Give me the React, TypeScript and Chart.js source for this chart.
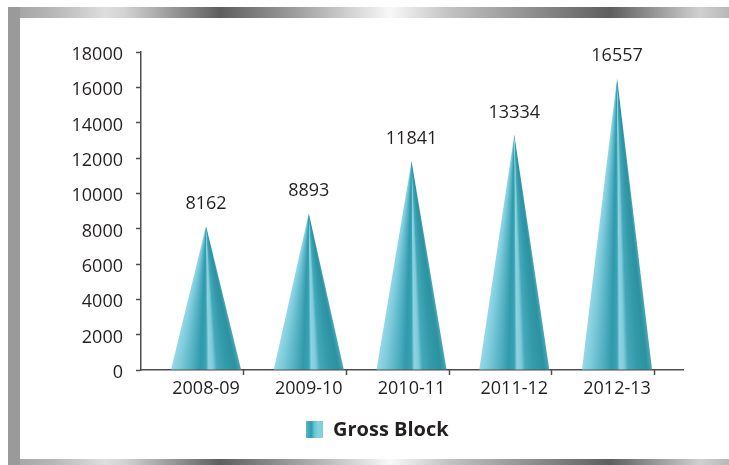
import React, { useEffect, useRef } from "react";
import { Chart, registerables } from "chart.js";

Chart.register(...registerables);

// ---- data ----
const categories = ["2008-09", "2009-10", "2010-11", "2011-12", "2012-13"];
const grossBlock = [8162, 8893, 11841, 13334, 16557];
const seriesLabel = "Gross Block";
const yMin = 0;
const yMax = 18000;
const yStep = 2000;

// ---- style ----
const FONT = "'Open Sans', 'Liberation Sans', sans-serif";
const TEXT = "#231f20";
const AXIS = "#4d4d4d";
const coneStops: [number, string][] = [
  [0.0, "#95d8e8"],
  [0.12, "#7ccbdb"],
  [0.3, "#4fafc0"],
  [0.42, "#3099aa"],
  [0.5, "#3aa3b3"],
  [0.54, "#8fd4e2"],
  [0.6, "#7fcbdb"],
  [0.66, "#44a8b8"],
  [0.8, "#3299a9"],
  [0.93, "#2c92a2"],
  [1.0, "#4aa9b7"],
];

function drawCone(ctx: CanvasRenderingContext2D, x: number, apexY: number, baseY: number, w: number) {
  const xl = x - w / 2;
  const xr = x + w / 2;
  const h = baseY - apexY;
  ctx.save();
  ctx.beginPath();
  ctx.moveTo(x, apexY);
  ctx.lineTo(xr, baseY);
  ctx.lineTo(xl, baseY);
  ctx.closePath();
  let fill: any;
  const anyCtx = ctx as any;
  if (h > 2 && typeof anyCtx.createConicGradient === "function") {
    const shift = 0.05;
    const aR = Math.atan2(h, xr - x) - shift;
    const g = anyCtx.createConicGradient(aR, x, apexY);
    for (const [f, c] of coneStops) {
      const a = Math.atan2(h, xl + f * w - x);
      let off = (a - aR) / (2 * Math.PI);
      off = Math.max(0, Math.min(1, off));
      g.addColorStop(off, c);
    }
    fill = g;
  } else {
    const g = ctx.createLinearGradient(xl, 0, xr, 0);
    for (const [f, c] of coneStops) g.addColorStop(f, c);
    fill = g;
  }
  ctx.fillStyle = fill;
  ctx.fill();
  ctx.restore();
}

const framePlugin = {
  id: "frame",
  beforeDraw(chart: any) {
    const ctx: CanvasRenderingContext2D = chart.ctx;
    const W = chart.width;
    const H = chart.height;
    ctx.save();
    ctx.fillStyle = "#ffffff";
    ctx.fillRect(0, 0, W, H);
    const mk = () => {
      const g = ctx.createLinearGradient(8, 0, W, 0);
      const stops: [number, string][] = [
        [8, "#a2a2a2"], [50, "#b5b5b5"], [105, "#dedede"], [125, "#d2d2d2"],
        [220, "#5e5e5e"], [300, "#a2a2a2"], [390, "#f8f8f8"], [450, "#c2c2c2"],
        [610, "#5e5e5e"], [700, "#d0d0d0"], [729, "#b8b8b8"],
      ];
      for (const [px, c] of stops) g.addColorStop(Math.max(0, Math.min(1, (px - 8) / (W - 8))), c);
      return g;
    };
    ctx.fillStyle = mk();
    ctx.fillRect(8, 7, W - 8, 11);
    ctx.fillStyle = mk();
    ctx.fillRect(8, 459, W - 8, H - 459);
    ctx.fillStyle = "#9a9a9a";
    ctx.fillRect(8, 7, 12, H - 7);
    ctx.restore();
  },
};

const conePlugin = {
  id: "cones",
  afterDatasetsDraw(chart: any) {
    const ctx: CanvasRenderingContext2D = chart.ctx;
    const meta = chart.getDatasetMeta(0);
    meta.data.forEach((el: any, i: number) => {
      const p = el.getProps(["x", "y", "base", "width"], true);
      drawCone(ctx, p.x, p.y, p.base, p.width);
      ctx.save();
      ctx.font = `18px ${FONT}`;
      ctx.fillStyle = TEXT;
      ctx.textAlign = "center";
      ctx.textBaseline = "middle";
      ctx.fillText(String(grossBlock[i]), p.x, p.y - 22);
      ctx.restore();
    });
    // x-axis tick marks at category boundaries
    const xs = chart.scales.x;
    const bottom = chart.chartArea.bottom;
    ctx.save();
    ctx.strokeStyle = AXIS;
    ctx.lineWidth = 1.5;
    categories.forEach((_, i) => {
      const px = Math.round(xs.getPixelForValue(i + 0.36)) + 0.5;
      ctx.beginPath();
      ctx.moveTo(px, bottom);
      ctx.lineTo(px, bottom + 5);
      ctx.stroke();
    });
    ctx.restore();
  },
};

const legendPlugin = {
  id: "customLegend",
  afterDraw(chart: any) {
    const ctx: CanvasRenderingContext2D = chart.ctx;
    const boxX = 306;
    const boxY = 421;
    const box = 17;
    ctx.save();
    const g = ctx.createLinearGradient(boxX, 0, boxX + box, 0);
    g.addColorStop(0, "#5ab8c6");
    g.addColorStop(0.3, "#2f9bab");
    g.addColorStop(0.5, "#66c3d0");
    g.addColorStop(0.7, "#82d3df");
    g.addColorStop(1, "#7ccfdc");
    ctx.fillStyle = g;
    ctx.fillRect(boxX, boxY, box, box);
    ctx.font = `bold 20px ${FONT}`;
    ctx.fillStyle = TEXT;
    ctx.textAlign = "left";
    ctx.textBaseline = "middle";
    ctx.fillText(seriesLabel, boxX + 27, boxY + box / 2 + 1);
    ctx.restore();
  },
};

export default function App() {
  const ref = useRef<HTMLCanvasElement | null>(null);
  useEffect(() => {
    if (!ref.current) return;
    const chart = new Chart(ref.current, {
      type: "bar",
      data: {
        datasets: [
          {
            label: seriesLabel,
            data: grossBlock.map((v, i) => ({ x: i, y: v })) as any,
            backgroundColor: "rgba(0,0,0,0)",
            borderWidth: 0,
            barThickness: 70,
          },
        ],
      },
      options: {
        animation: false,
        responsive: true,
        maintainAspectRatio: false,
        devicePixelRatio: 1,
        layout: { padding: { left: 0, right: 46, top: 52, bottom: 55 } },
        plugins: { legend: { display: false }, tooltip: { enabled: false } },
        scales: {
          x: {
            type: "linear",
            offset: false,
            min: -0.633,
            max: 4.642,
            afterBuildTicks: (s: any) => {
              s.ticks = categories.map((_, i) => ({ value: i }));
            },
            afterFit: (s: any) => {
              s.height = 40;
            },
            ticks: {
              autoSkip: false,
              maxRotation: 0,
              padding: 8,
              color: TEXT,
              font: { family: FONT, size: 18 },
              callback: (v: any) => categories[Math.round(Number(v))],
            },
            grid: { display: true, offset: false, drawOnChartArea: false, drawTicks: false },
            border: { display: true, color: AXIS, width: 1.5 },
          },
          y: {
            min: yMin,
            max: yMax,
            afterFit: (s: any) => {
              s.width = 141;
            },
            ticks: {
              stepSize: yStep,
              padding: 13,
              labelOffset: 3,
              color: TEXT,
              font: { family: FONT, size: 18 },
              callback: (v: any) => String(v),
            },
            grid: { drawOnChartArea: false, tickLength: 5, tickColor: AXIS, tickWidth: 1.5 },
            border: { display: true, color: AXIS, width: 1.5 },
          },
        },
      },
      plugins: [framePlugin, conePlugin, legendPlugin],
    });
    return () => chart.destroy();
  }, []);
  return (
    <div style={{ position: "fixed", left: 0, top: 0, width: 729, height: 465, background: "#fff" }}>
      <canvas ref={ref} />
    </div>
  );
}
